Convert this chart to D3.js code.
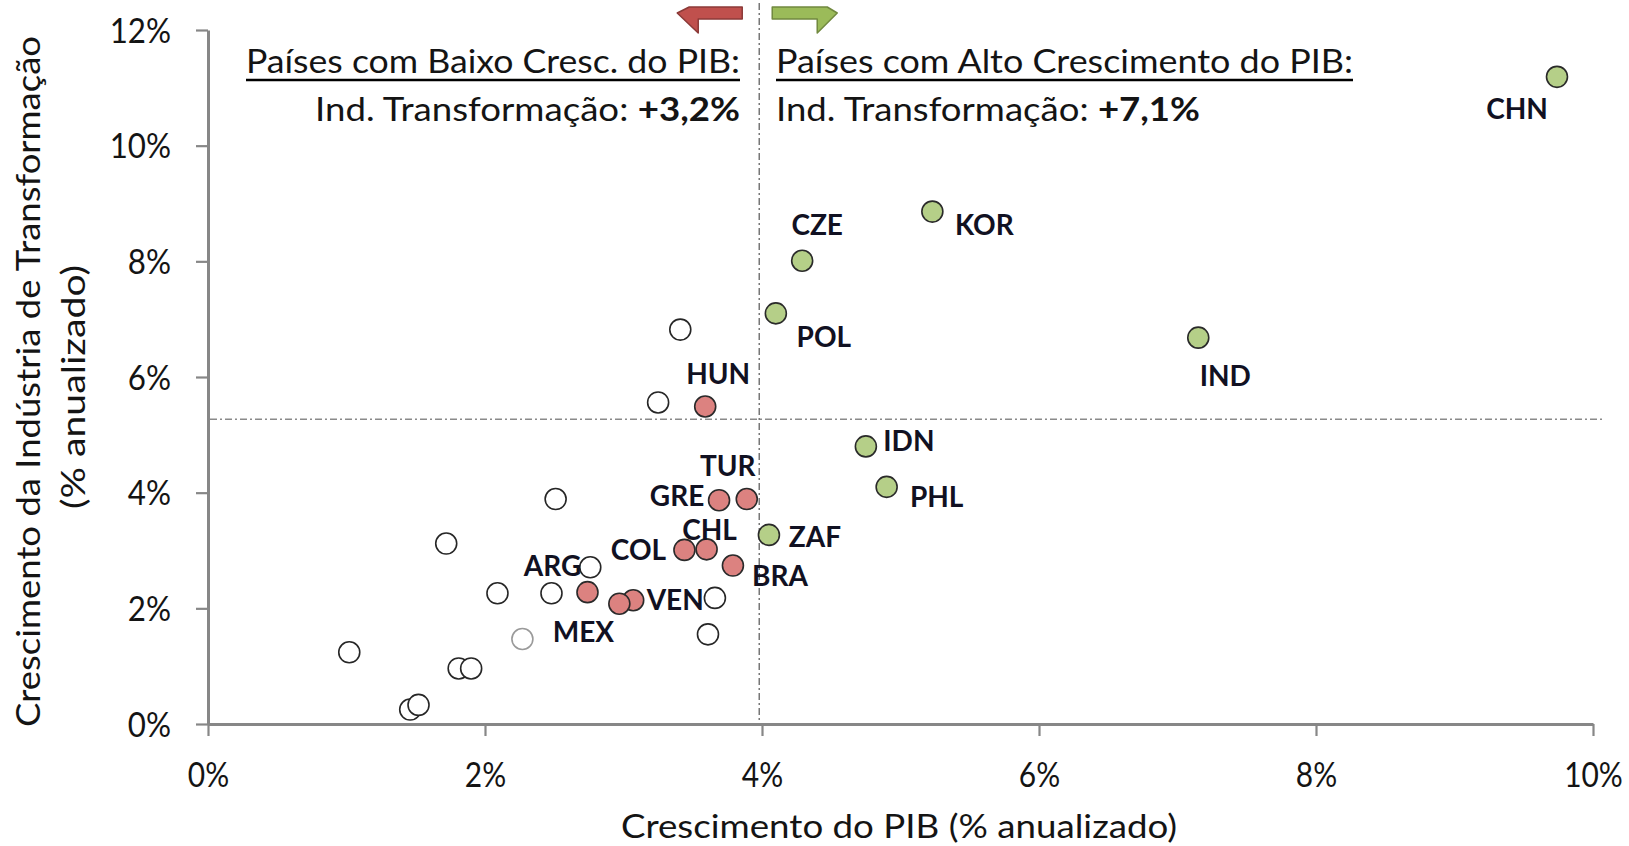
<!DOCTYPE html>
<html>
<head>
<meta charset="utf-8">
<script src="https://cdn.jsdelivr.net/npm/d3@7"></script>
<style>
  body { margin: 0; background: #fff; }
  svg { display: block; }
</style>
</head>
<body>
<svg id="chart" width="1629" height="846"></svg>
<script>
// ---------------- DATA ----------------
const xTicks = [0, 2, 4, 6, 8, 10];
const yTicks = [0, 2, 4, 6, 8, 10, 12];

// High-growth countries (green)
const highCountries = ["CHN", "KOR", "CZE", "POL", "IND", "IDN", "PHL", "ZAF"];
const highGdp       = [9.74, 5.23, 4.29, 4.10, 7.15, 4.75, 4.90, 4.05];
const highInd       = [11.19, 8.86, 8.01, 7.10, 6.68, 4.80, 4.10, 3.27];

// Low-growth countries (red)
const lowCountries = ["HUN", "TUR", "GRE", "CHL", "COL", "BRA", "ARG", "VEN", "MEX"];
const lowGdp       = [3.59, 3.89, 3.69, 3.60, 3.44, 3.79, 2.74, 3.07, 2.97];
const lowInd       = [5.49, 3.89, 3.87, 3.02, 3.01, 2.74, 2.28, 2.14, 2.08];

// Other (unlabelled) countries
const otherGdp = [3.41, 3.25, 2.51, 1.72, 2.76, 2.09, 2.48, 3.66, 2.27, 3.61, 1.02, 1.81, 1.90, 1.46, 1.52];
const otherInd = [6.82, 5.56, 3.89, 3.12, 2.71, 2.26, 2.26, 2.18, 1.47, 1.55, 1.24, 0.96, 0.96, 0.25, 0.33];

// Reference lines
const gdpThreshold = 3.98;
const indAverage = 5.27;

// Texts
const leftTitle = "Países com Baixo Cresc. do PIB:";
const leftSubLabel = "Ind. Transformação: ";
const leftSubValue = "+3,2%";
const rightTitle = "Países com Alto Crescimento do PIB:";
const rightSubLabel = "Ind. Transformação: ";
const rightSubValue = "+7,1%";
const xTitle = "Crescimento do PIB (% anualizado)";
const yTitle1 = "Crescimento da Indústria de Transformação";
const yTitle2 = "(% anualizado)";

// ---------------- LAYOUT / STYLE ----------------
const W = 1629, H = 846;
const plot = { left: 208, right: 1593, top: 30, bottom: 724 };
const labelOffset = {
  CHN: [-40, 32], KOR: [52, 13], CZE: [15, -36], POL: [48, 24], IND: [27, 38],
  IDN: [43, -5], PHL: [50, 10], ZAF: [46, 2],
  HUN: [13, -32], TUR: [-19, -33], GRE: [-42, -4], CHL: [3, -19], COL: [-46, 0],
  BRA: [47, 10], ARG: [-35, -26], VEN: [42, 0], MEX: [-36, 28]
};
const lightIndex = 8;
const R = 10.5;
const FONT = "Lato, 'Open Sans', sans-serif";
const axisColor = "#878787";
const textColor = "#141414";

const svg = d3.select("#chart");

const x = d3.scaleLinear().domain([0, 10]).range([plot.left, plot.right]);
const y = d3.scaleLinear().domain([0, 12]).range([plot.bottom, plot.top]);

function squeeze(sel, factor) {
  sel.each(function () {
    const w = this.getComputedTextLength();
    this.setAttribute("textLength", w * factor);
    this.setAttribute("lengthAdjust", "spacingAndGlyphs");
  });
}
function fitTo(sel, width) {
  sel.attr("textLength", width).attr("lengthAdjust", "spacingAndGlyphs");
}

// ---------------- REFERENCE LINES ----------------
const dash = "7,3,2,3";
svg.append("line")
  .attr("x1", x(0) + 2).attr("x2", x(10) + 12)
  .attr("y1", y(indAverage)).attr("y2", y(indAverage))
  .attr("stroke", "#8a8a8a").attr("stroke-width", 1.4)
  .attr("stroke-dasharray", dash);
svg.append("line")
  .attr("x1", x(gdpThreshold)).attr("x2", x(gdpThreshold))
  .attr("y1", 3).attr("y2", y(0))
  .attr("stroke", "#6e6e6e").attr("stroke-width", 1.4)
  .attr("stroke-dasharray", dash);

// ---------------- AXES ----------------
const xAxis = svg.append("g")
  .attr("transform", `translate(0,${y(0)})`)
  .call(d3.axisBottom(x).tickValues(xTicks).tickSize(12).tickSizeOuter(0).tickFormat(d => d + "%"));
const yAxis = svg.append("g")
  .attr("transform", `translate(${x(0)},0)`)
  .call(d3.axisLeft(y).tickValues(yTicks).tickSize(12).tickSizeOuter(0).tickFormat(d => d + "%"));

[xAxis, yAxis].forEach(g => {
  g.select(".domain").attr("stroke", axisColor).attr("stroke-width", 3);
  g.selectAll(".tick line").attr("stroke", axisColor).attr("stroke-width", 2.2);
  g.selectAll(".tick text")
    .attr("fill", textColor)
    .style("font-family", FONT)
    .style("font-size", "34px");
});
// x tick labels: horizontally condensed via a scale transform around the tick
xAxis.selectAll(".tick text").attr("y", 63).attr("dy", 0).attr("x", 0)
  .attr("transform", "scale(0.88,1)");
yAxis.selectAll(".tick text").attr("x", -37).attr("dy", 12.3);
squeeze(yAxis.selectAll(".tick text"), 0.92);

// Axis titles
svg.append("text")
  .attr("x", (621 + 1177) / 2).attr("y", 838)
  .attr("text-anchor", "middle")
  .attr("fill", textColor)
  .style("font-family", FONT).style("font-size", "33px")
  .text(xTitle)
  .call(fitTo, 556);

const yt = svg.append("g").attr("transform", "rotate(-90)");
yt.append("text")
  .attr("x", -(36 + 727) / 2).attr("y", 40)
  .attr("text-anchor", "middle")
  .attr("fill", textColor)
  .style("font-family", FONT).style("font-size", "33px")
  .text(yTitle1)
  .call(fitTo, 691);
yt.append("text")
  .attr("x", -(265 + 509) / 2).attr("y", 85)
  .attr("text-anchor", "middle")
  .attr("fill", textColor)
  .style("font-family", FONT).style("font-size", "33px")
  .text(yTitle2)
  .call(fitTo, 244);

// ---------------- ARROWS ----------------
const xv = x(gdpThreshold);
const redArrow = [[-82, 13], [-70, 7], [-17, 7], [-17, 19], [-61, 19], [-61, 33]];
const greenArrow = [[13, 7], [68, 7], [78, 13], [58, 33], [58, 19], [13, 19]];
svg.append("polygon")
  .attr("points", redArrow.map(p => [xv + p[0], p[1]].join(",")).join(" "))
  .attr("fill", "#c0504d").attr("stroke", "#8c3a38").attr("stroke-width", 1.5)
  .attr("stroke-linejoin", "round");
svg.append("polygon")
  .attr("points", greenArrow.map(p => [xv + p[0], p[1]].join(",")).join(" "))
  .attr("fill", "#9bbb59").attr("stroke", "#71893f").attr("stroke-width", 1.5)
  .attr("stroke-linejoin", "round");

// ---------------- HEADERS ----------------
function header(x0, x1, title, subLabel, subValue, subX1) {
  svg.append("text")
    .attr("x", x0).attr("y", 73)
    .attr("fill", textColor)
    .style("font-family", FONT).style("font-size", "32px")
    .text(title)
    .call(fitTo, x1 - x0);
  svg.append("line")
    .attr("x1", x0).attr("x2", x1)
    .attr("y1", 80).attr("y2", 80)
    .attr("stroke", "#000").attr("stroke-width", 2.6);
  const t = svg.append("text")
    .attr("x", subX1).attr("y", 120.5)
    .attr("text-anchor", "end")
    .attr("fill", textColor)
    .style("font-family", FONT).style("font-size", "32px");
  t.append("tspan").text(subLabel);
  t.append("tspan").style("font-weight", "bold").text(subValue);
  return t;
}
const lt = header(246, 740, leftTitle, leftSubLabel, leftSubValue, 740);
fitTo(lt, 425);
const rt = header(776, 1353, rightTitle, rightSubLabel, rightSubValue, 1200);
fitTo(rt, 424);

// ---------------- POINTS ----------------
const others = otherGdp.map((g, i) => ({ g, v: otherInd[i], i }));
svg.append("g").selectAll("circle").data(others).join("circle")
  .attr("cx", d => x(d.g)).attr("cy", d => y(d.v)).attr("r", R)
  .attr("fill", "#fff")
  .attr("stroke", d => d.i === lightIndex ? "#9a9a9a" : "#262626")
  .attr("stroke-width", 1.6);

const lows = lowCountries.map((c, i) => ({ c, g: lowGdp[i], v: lowInd[i] }));
const highs = highCountries.map((c, i) => ({ c, g: highGdp[i], v: highInd[i] }));

svg.append("g").selectAll("circle").data(lows).join("circle")
  .attr("cx", d => x(d.g)).attr("cy", d => y(d.v)).attr("r", R)
  .attr("fill", "#dc8280").attr("stroke", "#2a2a2a").attr("stroke-width", 1.6);
svg.append("g").selectAll("circle").data(highs).join("circle")
  .attr("cx", d => x(d.g)).attr("cy", d => y(d.v)).attr("r", R)
  .attr("fill", "#b5cf88").attr("stroke", "#2a2a2a").attr("stroke-width", 1.6);

// Labels
svg.append("g").selectAll("text").data(highs.concat(lows)).join("text")
  .attr("x", d => x(d.g) + labelOffset[d.c][0])
  .attr("y", d => y(d.v) + labelOffset[d.c][1] + 10)
  .attr("text-anchor", "middle")
  .attr("fill", "#111122")
  .style("font-family", FONT).style("font-size", "28px").style("font-weight", "bold")
  .text(d => d.c);
</script>
</body>
</html>
